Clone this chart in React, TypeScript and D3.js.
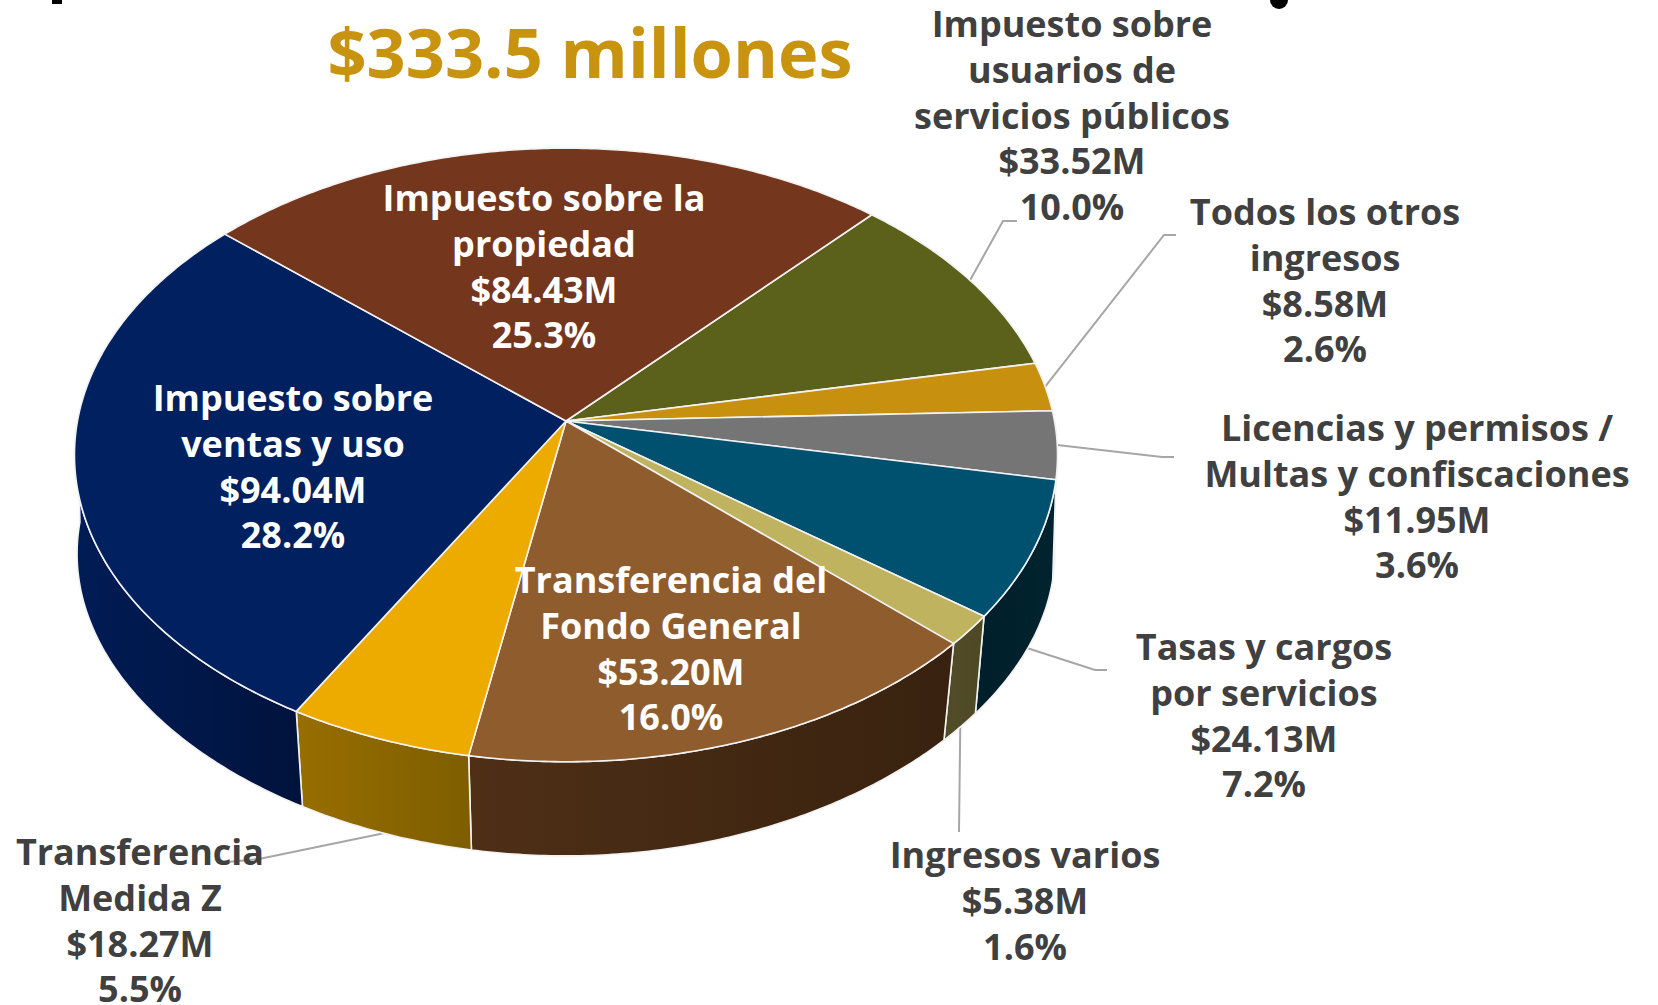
import * as d3 from 'd3';

const categories = [
  'Impuesto sobre usuarios de servicios públicos',
  'Todos los otros ingresos',
  'Licencias y permisos / Multas y confiscaciones',
  'Tasas y cargos por servicios',
  'Ingresos varios',
  'Transferencia del Fondo General',
  'Transferencia Medida Z',
  'Impuesto sobre ventas y uso',
  'Impuesto sobre la propiedad'
];
const values = [33.52, 8.58, 11.95, 24.13, 5.38, 53.2, 18.27, 94.04, 84.43];
const percents = ['10.0%', '2.6%', '3.6%', '7.2%', '1.6%', '16.0%', '5.5%', '28.2%', '25.3%'];
const nameLines = [
  ['Impuesto sobre', 'usuarios de', 'servicios públicos'],
  ['Todos los otros', 'ingresos'],
  ['Licencias y permisos /', 'Multas y confiscaciones'],
  ['Tasas y cargos', 'por servicios'],
  ['Ingresos varios'],
  ['Transferencia del', 'Fondo General'],
  ['Transferencia', 'Medida Z'],
  ['Impuesto sobre', 'ventas y uso'],
  ['Impuesto sobre la', 'propiedad']
];
const topColors = ['#5b601b', '#c7910f', '#757575', '#00506f', '#bfb35f', '#8f5c2e', '#edab00', '#002060', '#74361c'];
const sideColors = [
  ['#3a3d11', '#3a3d11'],
  ['#7f5c09', '#7f5c09'],
  ['#4a4a4a', '#4a4a4a'],
  ['#001f2b', '#00242f'],
  ['#514c27', '#4e4925'],
  ['#4f2f16', '#38220f'],
  ['#986e00', '#7e5e00'],
  ['#001c55', '#00133d'],
  ['#49220f', '#49220f']
];
const labelX = [1072, 1325, 1417, 1264, 1025, 671, 140, 293, 544];
const labelY = [24, 212, 428, 647, 855, 580, 852, 398, 198];
// leader line: which rim it leaves from, then elbow and end point
const leaders: ({ rim: 'top' | 'bottom'; frac: number; pts: [number, number][] } | null)[] = [
  { rim: 'top', frac: 0.5, pts: [[1003, 221], [1017, 221]] },
  { rim: 'top', frac: 0.5, pts: [[1164, 235], [1176, 235]] },
  { rim: 'top', frac: 0.5, pts: [[1162, 457], [1174, 457]] },
  { rim: 'bottom', frac: 0.5, pts: [[1095, 670], [1107, 670]] },
  { rim: 'bottom', frac: 0.5, pts: [[959, 832]] },
  null,
  { rim: 'bottom', frac: 0.5, pts: [[259, 859], [228, 862]] },
  null,
  null
];

const WIDTH = 1658;
const HEIGHT = 1005;
const CX = 566;
const CY = 421;
const A = 488.5; // perspective ellipse of the top face
const B = 303;
const K = 0.1107;
const DEPTH = 101;
const LINE_H = 45.8;
const FONT = '"Open Sans", Lato, sans-serif';

const project = (angle: number, rim: 'top' | 'bottom' = 'top'): [number, number] => {
  const u = Math.sin(angle);
  const v = -Math.cos(angle);
  const d = 1 - K * v;
  if (rim === 'top') return [CX + (A * u) / d, CY + (B * v) / d];
  // the lower rim pulls in more toward the front of the pie, a bit more on the right
  const sx = 0.995 - (u > 0 ? 0.043 : 0.024) * v * v;
  return [CX + (sx * A * u) / d, CY + DEPTH + (0.98 * B * v) / d];
};

const pie = d3
  .pie<number>()
  .sort(null)
  .startAngle((42.6 * Math.PI) / 180)
  .endAngle((402.6 * Math.PI) / 180);
const slices = pie(values);

const sampleAngles = (a0: number, a1: number) => {
  const n = Math.max(2, Math.ceil((a1 - a0) / 0.01));
  return d3.range(n + 1).map(i => a0 + ((a1 - a0) * i) / n);
};

const line = d3.line<[number, number]>().curve(d3.curveLinear);
const moneyFormat = d3.format('.2f');

const isFront = (a0: number, a1: number) => a1 > Math.PI / 2 && a0 < (3 * Math.PI) / 2;

export default function App() {
  return (
    <svg width={WIDTH} height={HEIGHT} style={{ position: 'absolute', left: 0, top: 0, display: 'block', background: '#fff' }}>
      <defs>
        {slices.map((s, i) => {
          const a0 = Math.max(s.startAngle, Math.PI / 2);
          const a1 = Math.min(s.endAngle, (3 * Math.PI) / 2);
          if (!isFront(s.startAngle, s.endAngle)) return null;
          const xs = [project(a0)[0], project(a1)[0]];
          return (
            <linearGradient key={i} id={`side-${i}`} gradientUnits="userSpaceOnUse" x1={d3.min(xs)} x2={d3.max(xs)} y1={0} y2={0}>
              <stop offset="0%" stopColor={sideColors[i][0]} />
              <stop offset="100%" stopColor={sideColors[i][1]} />
            </linearGradient>
          );
        })}
      </defs>

      {/* leaders sit behind the pie */}
      {slices.map((s, i) => {
        const l = leaders[i];
        if (!l) return null;
        const mid = s.startAngle + (s.endAngle - s.startAngle) * l.frac;
        return <path key={i} d={line([project(mid, l.rim), ...l.pts]) ?? ''} fill="none" stroke="#a6a6a6" strokeWidth={2} />;
      })}

      {/* side walls */}
      {slices.map((s, i) => {
        if (!isFront(s.startAngle, s.endAngle)) return null;
        const a0 = Math.max(s.startAngle, Math.PI / 2);
        const a1 = Math.min(s.endAngle, (3 * Math.PI) / 2);
        const angles = sampleAngles(a0, a1);
        const pts = [...angles.map(a => project(a)), ...angles.slice().reverse().map(a => project(a, 'bottom'))];
        return <path key={i} d={`${line(pts)}Z`} fill={`url(#side-${i})`} stroke="#f2f2f2" strokeWidth={1.6} strokeLinejoin="round" />;
      })}

      {/* top face */}
      {slices.map((s, i) => {
        const pts: [number, number][] = [[CX, CY], ...sampleAngles(s.startAngle, s.endAngle).map(a => project(a))];
        return <path key={i} d={`${line(pts)}Z`} fill={topColors[i]} stroke="#f2f2f2" strokeWidth={1.6} strokeLinejoin="round" />;
      })}

      {/* labels */}
      {categories.map((c, i) => {
        const rows = [...nameLines[i], `$${moneyFormat(values[i])}M`, percents[i]];
        const inside = i === 5 || i === 7 || i === 8;
        return (
          <text key={c} textAnchor="middle" fontFamily={FONT} fontWeight={700} fontSize={36} fill={inside ? '#fff' : '#404040'}>
            {rows.map((r, j) => (
              <tspan key={j} x={labelX[i]} y={labelY[i] + 13 + j * LINE_H}>
                {r}
              </tspan>
            ))}
          </text>
        );
      })}

      <text x={590} y={78} textAnchor="middle" fontFamily={FONT} fontWeight={700} fontSize={68.5} fill="#c8930f">
        $333.5 millones
      </text>

      {/* bits of the cropped-off heading's descenders */}
      <rect x={52} y={0} width={10} height={4} fill="#000" />
      <path d={d3.arc()({ innerRadius: 0, outerRadius: 9, startAngle: Math.PI / 2, endAngle: (3 * Math.PI) / 2 }) ?? ''} transform="translate(1279,0)" fill="#000" />
    </svg>
  );
}
